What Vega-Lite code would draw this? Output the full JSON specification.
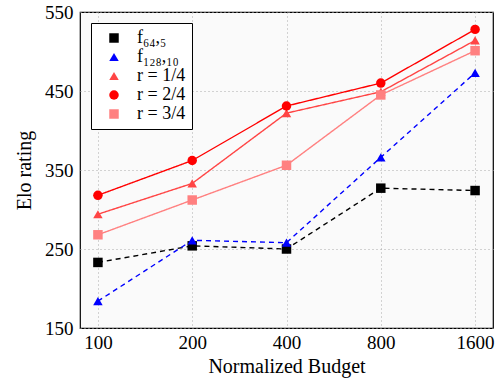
{
  "$schema": "https://vega.github.io/schema/vega-lite/v6.json",
  "autosize": "none",
  "width": 413,
  "height": 316,
  "padding": {"left": 80, "top": 12, "right": 5, "bottom": 56},
  "background": "white",
  "config": {
    "font": "Liberation Serif",
    "view": {"stroke": "black", "strokeWidth": 1.2, "fill": "#fafafa"}
  },
  "data": {
    "values": [
      {"budget": 100, "series": "f₆₄,₅", "elo": 233},
      {"budget": 200, "series": "f₆₄,₅", "elo": 254},
      {"budget": 400, "series": "f₆₄,₅", "elo": 250},
      {"budget": 800, "series": "f₆₄,₅", "elo": 327},
      {"budget": 1600, "series": "f₆₄,₅", "elo": 324},
      {"budget": 100, "series": "f₁₂₈,₁₀", "elo": 184},
      {"budget": 200, "series": "f₁₂₈,₁₀", "elo": 261},
      {"budget": 400, "series": "f₁₂₈,₁₀", "elo": 258},
      {"budget": 800, "series": "f₁₂₈,₁₀", "elo": 366},
      {"budget": 1600, "series": "f₁₂₈,₁₀", "elo": 473},
      {"budget": 100, "series": "r = 1/4", "elo": 294},
      {"budget": 200, "series": "r = 1/4", "elo": 333},
      {"budget": 400, "series": "r = 1/4", "elo": 422},
      {"budget": 800, "series": "r = 1/4", "elo": 449},
      {"budget": 1600, "series": "r = 1/4", "elo": 514},
      {"budget": 100, "series": "r = 2/4", "elo": 318},
      {"budget": 200, "series": "r = 2/4", "elo": 362},
      {"budget": 400, "series": "r = 2/4", "elo": 431},
      {"budget": 800, "series": "r = 2/4", "elo": 460},
      {"budget": 1600, "series": "r = 2/4", "elo": 528},
      {"budget": 100, "series": "r = 3/4", "elo": 268},
      {"budget": 200, "series": "r = 3/4", "elo": 312},
      {"budget": 400, "series": "r = 3/4", "elo": 356},
      {"budget": 800, "series": "r = 3/4", "elo": 445},
      {"budget": 1600, "series": "r = 3/4", "elo": 501}
    ]
  },
  "encoding": {
    "x": {
      "field": "budget", "type": "ordinal", "sort": [100, 200, 400, 800, 1600],
      "scale": {"type": "point", "padding": 0.19},
      "axis": {
        "title": "Normalized Budget", "labelAngle": 0, "labelFontSize": 19, "titleFontSize": 20,
        "titleFontWeight": "normal", "labelColor": "black", "titleColor": "black",
        "domain": false, "ticks": false, "labelPadding": 5, "titlePadding": 4,
        "grid": true, "gridDash": [1, 3], "gridColor": "#aaaaaa"
      }
    },
    "y": {
      "field": "elo", "type": "quantitative",
      "scale": {"domain": [150, 550], "nice": false},
      "axis": {
        "title": "Elo rating", "values": [150, 250, 350, 450, 550], "labelFontSize": 19, "titleFontSize": 20,
        "titleFontWeight": "normal", "labelColor": "black", "titleColor": "black",
        "domain": false, "ticks": false, "labelPadding": 7, "titlePadding": 10,
        "gridDash": [1, 3], "gridColor": "#aaaaaa"
      }
    },
    "color": {
      "field": "series", "type": "nominal",
      "scale": {
        "domain": ["f₆₄,₅", "f₁₂₈,₁₀", "r = 1/4", "r = 2/4", "r = 3/4"],
        "range": ["#000000", "#0000ff", "#ff4545", "#ff0000", "#ff8080"]
      },
      "legend": {
        "title": null, "orient": "top-left", "offset": 11,
        "labelFontSize": 18, "labelColor": "black", "symbolSize": 90,
        "strokeColor": "black", "fillColor": "white", "padding": 6,
        "rowPadding": 1, "symbolStrokeWidth": 0, "labelOffset": 14, "symbolOffset": 8,
        "encode": {"symbols": {"update": {"strokeDash": {"value": [1, 0]}, "strokeWidth": {"value": 0}}}}
      }
    },
    "shape": {
      "field": "series", "type": "nominal",
      "scale": {
        "domain": ["f₆₄,₅", "f₁₂₈,₁₀", "r = 1/4", "r = 2/4", "r = 3/4"],
        "range": ["square", "triangle-up", "triangle-up", "circle", "square"]
      }
    }
  },
  "layer": [
    {
      "mark": {"type": "line", "strokeWidth": 1.4},
      "encoding": {
        "strokeDash": {
          "field": "series", "type": "nominal", "legend": null,
          "scale": {
            "domain": ["f₆₄,₅", "f₁₂₈,₁₀", "r = 1/4", "r = 2/4", "r = 3/4"],
            "range": [[5, 4], [5, 4], [1, 0], [1, 0], [1, 0]]
          }
        }
      }
    },
    {"mark": {"type": "point", "filled": true, "opacity": 1, "size": 90}}
  ]
}
